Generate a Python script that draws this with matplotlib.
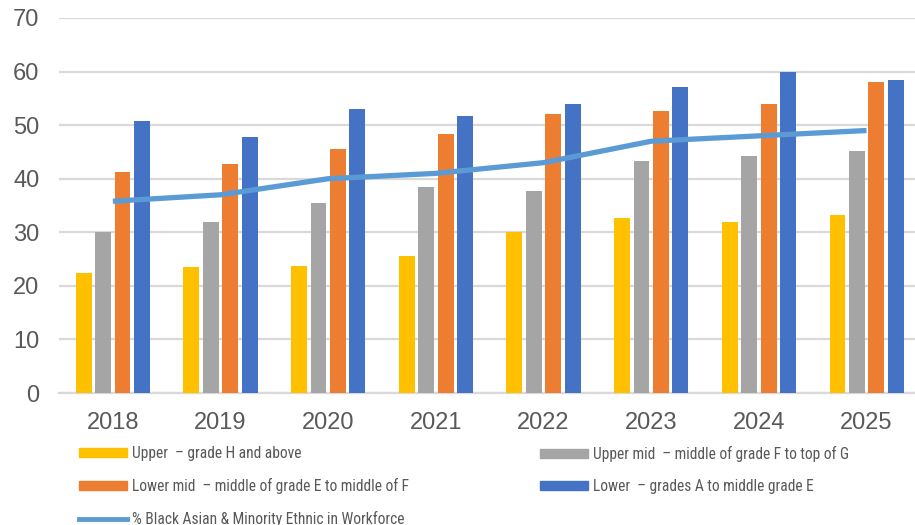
import numpy as np
import matplotlib.pyplot as plt
from matplotlib.patches import Patch
from matplotlib.lines import Line2D

# data
years = ['2018', '2019', '2020', '2021', '2022', '2023', '2024', '2025']
upper = [22.4, 23.5, 23.8, 25.5, 30.0, 32.6, 32.0, 33.3]
upper_mid = [30.0, 32.0, 35.4, 38.4, 37.7, 43.4, 44.3, 45.1]
lower_mid = [41.3, 42.7, 45.5, 48.3, 52.0, 52.7, 53.9, 58.0]
lower = [50.8, 47.8, 53.0, 51.7, 54.0, 57.1, 59.9, 58.4]
bame_pct = [35.8, 37.0, 40.0, 41.0, 43.0, 47.0, 48.0, 49.0]

labels = ['Upper  – grade H and above',
          'Upper mid  – middle of grade F to top of G',
          'Lower mid  – middle of grade E to middle of F',
          'Lower  – grades A to middle grade E',
          '% Black Asian & Minority Ethnic in Workforce']
colors = ['#ffc000', '#a5a5a5', '#ed7d31', '#4472c4']
line_color = '#5b9bd5'
text_color = '#595959'
grid_color = '#d9d9d9'

plt.rcParams['font.family'] = ['Liberation Sans', 'DejaVu Sans']

fig = plt.figure(figsize=(9.15, 5.25), dpi=100)
ax = fig.add_axes([59 / 915, 1 - 393 / 525, 1 - 59 / 915, 375 / 525])

x = np.arange(len(years))
w = 0.148
step = 0.18
series = [upper, upper_mid, lower_mid, lower]
for i, (vals, c) in enumerate(zip(series, colors)):
    ax.bar(x + (i - 1.5) * step, vals, width=w, color=c, zorder=3)

ax.plot(x, bame_pct, color=line_color, lw=3.8, zorder=4, solid_capstyle='butt')

ax.set_ylim(0, 70)
ax.set_xlim(-0.5, 7.45)
ax.set_yticks(range(0, 71, 10))
ax.set_xticks(x)
ax.set_xticklabels(years)
ax.yaxis.grid(True, color=grid_color, lw=1.6, zorder=0)
ax.tick_params(axis='both', which='major', length=0, labelsize=17, labelcolor=text_color)
ax.tick_params(axis='x', pad=14)
ax.tick_params(axis='y', pad=14)
for s in ['top', 'right', 'left']:
    ax.spines[s].set_visible(False)
ax.spines['bottom'].set_color(grid_color)
ax.spines['bottom'].set_linewidth(1.6)

# legend in two separately placed columns
leg_font = {'family': ['Roboto Condensed', 'Liberation Sans'], 'size': 11.2}
leg_kw = dict(loc='upper left', frameon=False, handlelength=3.1, handleheight=0.5,
              handletextpad=0.3, labelspacing=1.08, borderpad=0, borderaxespad=0,
              prop=leg_font)
left = fig.legend([Patch(color=colors[0]), Patch(color=colors[2]),
                   Line2D([], [], color=line_color, lw=3.5)],
                  [labels[0], labels[2], labels[4]],
                  bbox_to_anchor=(79 / 915, 1 - 446 / 525), **leg_kw)
right = fig.legend([Patch(color=colors[1]), Patch(color=colors[3])],
                   [labels[1], labels[3]],
                   bbox_to_anchor=(540 / 915, 1 - 446 / 525), **leg_kw)
for leg in (left, right):
    for t in leg.get_texts():
        t.set_color(text_color)

fig.savefig('out.png', dpi=100)
